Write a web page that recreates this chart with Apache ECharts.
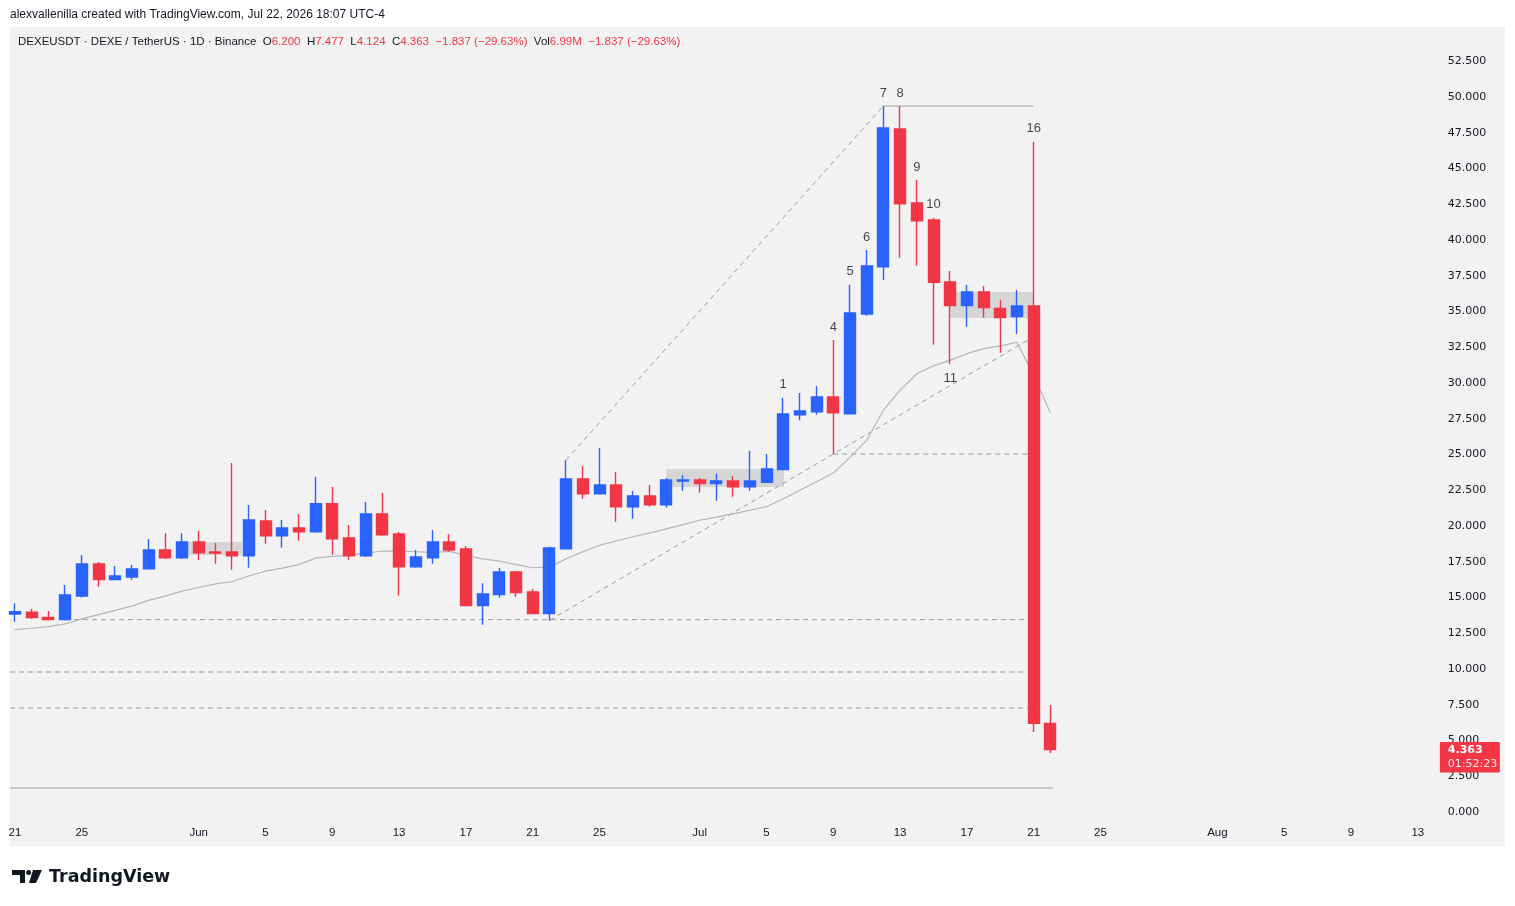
<!DOCTYPE html>
<html>
<head>
<meta charset="utf-8">
<script src="https://cdn.jsdelivr.net/npm/echarts/dist/echarts.min.js"></script>
<style>
  html, body { margin: 0; padding: 0; background: #ffffff; }
  #panel { position: absolute; left: 10px; top: 27px; width: 1495px; height: 819px; background: #f2f2f2; }
  #chart { position: absolute; left: 0; top: 0; width: 1515px; height: 906px; }
</style>
</head>
<body>
<div id="panel"></div>
<div id="chart"></div>
<script>
// ---------------- DATA ----------------
const startDate = '2026-05-21';
const categoryCount = 86; // May 21 .. Aug 14 (time scale incl. future space)

// daily candles May 21 .. Jul 22
const opens = [13.85,13.97,13.6,13.45,15.1,17.34,16.25,16.43,17.0,18.32,17.78,18.88,18.18,18.18,17.92,20.35,19.32,19.86,19.6,21.56,19.16,17.92,20.84,19.44,17.15,17.78,18.88,18.39,14.43,15.2,16.78,15.38,13.87,18.41,23.29,22.26,22.87,21.35,22.1,21.49,23.15,23.22,22.96,23.15,22.75,23.06,23.94,27.78,27.99,29.02,27.85,34.83,38.13,47.76,42.59,41.4,37.06,35.41,36.36,35.22,34.64,35.38,6.2];
const closes = [14.0,13.6,13.45,15.17,17.34,16.25,16.5,17.0,18.32,17.78,18.88,18.13,18.1,17.92,20.42,19.32,19.86,19.6,21.56,19.11,17.92,20.84,19.39,17.15,17.83,18.88,18.32,14.43,15.24,16.78,15.34,13.87,18.46,23.29,22.26,22.87,21.35,22.1,21.49,23.22,23.22,22.96,23.15,22.75,23.15,23.99,27.83,28.04,29.02,27.92,34.9,38.18,47.83,42.54,41.35,37.04,35.41,36.36,35.27,34.57,35.38,6.2,4.363];
const lows = [13.3,13.5,13.45,13.4,15.0,15.76,16.2,16.25,17.0,17.7,17.7,17.62,17.36,16.94,17.08,18.76,18.48,18.97,19.6,17.99,17.64,17.83,19.32,15.13,17.08,17.36,18.2,14.43,13.1,14.99,15.06,13.87,13.38,18.4,21.91,22.2,20.3,20.51,21.35,21.28,22.47,22.33,21.77,22.05,22.47,23.0,23.9,27.39,27.78,25.03,27.8,34.7,37.2,38.76,38.2,32.68,31.31,33.94,34.57,32.12,33.43,5.59,4.124];
const highs = [14.6,14.2,14.05,15.87,17.97,17.48,17.2,17.27,19.09,19.5,19.5,19.67,18.81,24.4,21.47,21.12,20.42,20.84,23.45,22.73,20.07,21.68,22.31,19.58,18.32,19.72,19.44,18.6,16.0,17.06,16.85,15.59,18.55,24.62,24.2,25.45,23.78,22.45,22.87,23.36,23.57,23.36,23.66,23.5,25.24,25.03,28.97,29.3,29.79,33.0,36.87,39.3,49.37,49.37,44.2,41.56,37.83,36.85,36.78,35.83,36.5,46.87,7.477];
// moving average
const maValues = [12.75,12.85,12.96,13.15,13.5,13.8,14.1,14.4,14.8,15.1,15.45,15.7,15.95,16.1,16.5,16.85,17.05,17.3,17.75,17.88,17.95,18.1,18.25,18.25,18.2,18.15,18.22,17.95,17.7,17.55,17.3,17.08,17.15,17.7,18.2,18.65,18.95,19.25,19.5,19.8,20.1,20.4,20.62,20.85,21.1,21.35,21.9,22.5,23.1,23.7,24.8,26.0,28.1,29.5,30.65,31.2,31.6,32.05,32.4,32.6,32.85,30.5,27.9];

// time-axis tick labels
const tickDates = ['2026-05-21','2026-05-25','2026-06-01','2026-06-05','2026-06-09','2026-06-13','2026-06-17','2026-06-21','2026-06-25','2026-07-01','2026-07-05','2026-07-09','2026-07-13','2026-07-17','2026-07-21','2026-07-25','2026-08-01','2026-08-05','2026-08-09','2026-08-13'];
const monthNames = ['Jan','Feb','Mar','Apr','May','Jun','Jul','Aug','Sep','Oct','Nov','Dec'];

// pivot labels
const pivotDates  = ['2026-07-06','2026-07-09','2026-07-10','2026-07-11','2026-07-12','2026-07-13','2026-07-14','2026-07-15','2026-07-16','2026-07-21'];
const pivotTexts  = ['1','4','5','6','7','8','9','10','11','16'];
const pivotSides  = ['high','high','high','high','high','high','high','high','low','high'];

// dashed horizontal levels
const levelFrom  = ['2026-05-24','2026-05-20T17:00:00Z','2026-05-20T17:00:00Z','2026-07-09'];
const levelTo    = ['2026-07-21','2026-07-21','2026-07-21','2026-07-21'];
const levelValue = [13.45, 9.79, 7.27, 25.03];

// dashed trend lines
const trendFromDate = ['2026-06-23','2026-06-22'];
const trendFromVal  = [24.62, 13.4];
const trendToDate   = ['2026-07-12','2026-07-21'];
const trendToVal    = [49.37, 33.24];

// solid horizontal lines
const solidFrom  = ['2026-07-12','2026-05-20T17:00:00Z'];
const solidTo    = ['2026-07-21','2026-07-22T04:00:00Z'];
const solidValue = [49.37, 1.68];

// shaded boxes
const boxFrom   = ['2026-05-31T08:40:00Z','2026-06-29T00:00:00Z','2026-07-16T00:00:00Z'];
const boxTo     = ['2026-06-03T14:30:00Z','2026-07-06T01:00:00Z','2026-07-21T00:00:00Z'];
const boxTop    = [18.88, 23.99, 36.36];
const boxBottom = [17.97, 22.73, 34.55];

const symbolInfo = 'DEXEUSDT · DEXE / TetherUS · 1D · Binance';
const volumeText = '6.99M';
const countdown = '01:52:23';

// ---------------- HELPERS ----------------
const DAY = 86400000;
const t0 = Date.parse(startDate + 'T00:00:00Z');
function dIdx(s) { return (Date.parse(s.length === 10 ? s + 'T00:00:00Z' : s) - t0) / DAY; }
const categories = [];
for (let i = 0; i < categoryCount; i++) {
  const d = new Date(t0 + i * DAY);
  categories.push(d.toISOString().slice(0, 10));
}
const tickSet = new Set(tickDates);
const candleData = opens.map((o, i) => [o, closes[i], lows[i], highs[i]]);

const FONT = '"Liberation Sans", Arial, sans-serif';
const dashStyle = { color: '#9a9a9a', width: 1, type: [5, 4] };
const solidStyle = { color: '#a0a0a0', width: 1, type: 'solid' };

const series = [];
levelValue.forEach((v, k) => {
  const s = {
    type: 'line', xAxisIndex: 1, yAxisIndex: 0, silent: true, symbol: 'none', z: 1,
    data: [[dIdx(levelFrom[k]), v], [dIdx(levelTo[k]), v]], lineStyle: dashStyle
  };
  if (k === 0) {
    s.markArea = {
      silent: true,
      itemStyle: { color: 'rgba(150,150,150,0.3)' },
      data: boxTop.map((t, j) => [{ coord: [dIdx(boxFrom[j]), t] }, { coord: [dIdx(boxTo[j]), boxBottom[j]] }])
    };
  }
  series.push(s);
});
trendFromDate.forEach((d, k) => {
  series.push({
    type: 'line', xAxisIndex: 1, yAxisIndex: 0, silent: true, symbol: 'none', z: 1,
    data: [[dIdx(d), trendFromVal[k]], [dIdx(trendToDate[k]), trendToVal[k]]], lineStyle: dashStyle
  });
});
solidValue.forEach((v, k) => {
  series.push({
    type: 'line', xAxisIndex: 1, yAxisIndex: 0, silent: true, symbol: 'none', z: 1,
    data: [[dIdx(solidFrom[k]), v], [dIdx(solidTo[k]), v]], lineStyle: solidStyle
  });
});
series.push({
  type: 'line', xAxisIndex: 0, yAxisIndex: 0, silent: true, symbol: 'none', z: 2,
  data: maValues, lineStyle: { color: '#b5b5b5', width: 1.2 }
});
series.push({
  type: 'candlestick', xAxisIndex: 0, yAxisIndex: 0, z: 5, barWidth: 11.5,
  data: candleData,
  itemStyle: { color: '#2962ff', color0: '#f23645', borderColor: '#2962ff', borderColor0: '#f23645', borderWidth: 1.4 }
});
series.push({
  type: 'scatter', xAxisIndex: 1, yAxisIndex: 0, silent: true, z: 6, symbolSize: 1,
  itemStyle: { color: 'rgba(0,0,0,0)' },
  data: pivotDates.map((d, k) => {
    const i = Math.round(dIdx(d));
    const hi = pivotSides[k] === 'high';
    return {
      name: pivotTexts[k], value: [i, hi ? highs[i] : lows[i]],
      label: { position: hi ? 'top' : 'bottom', distance: hi ? 6 : 7 }
    };
  }),
  label: { show: true, formatter: '{b}', fontFamily: FONT, fontSize: 13, color: '#131722' }
});

// legend line
const n = closes.length;
const lastO = opens[n - 1], lastH = highs[n - 1], lastL = lows[n - 1], lastC = closes[n - 1];
const chg = lastC - closes[n - 2];
const pct = chg / closes[n - 2] * 100;
const fmtSigned = v => (v < 0 ? '\u2212' : '+') + Math.abs(v).toFixed(3);
const chgText = fmtSigned(chg) + ' (' + (pct < 0 ? '\u2212' : '+') + Math.abs(pct).toFixed(2) + '%)';
const legendRich = symbolInfo + '  O{r|' + lastO.toFixed(3) + '}  H{r|' + lastH.toFixed(3) + '}  L{r|' + lastL.toFixed(3) +
  '}  C{r|' + lastC.toFixed(3) + '}  {r|' + chgText + '}  Vol{r|' + volumeText + '}  {r|' + chgText + '}';

const chart = echarts.init(document.getElementById('chart'), null, { renderer: 'canvas' });
const gridLeft = 6.65, cellW = 16.7;
const gridRight = 1515 - (gridLeft + cellW * categoryCount);

function baseGraphics() {
  return [
    { type: 'text', left: 10, top: 9, silent: true,
      style: { text: 'alexvallenilla created with TradingView.com, Jul 22, 2026 18:07 UTC-4', font: '12px ' + FONT, fill: '#131722' } },
    { type: 'text', left: 18, top: 36, silent: true,
      style: { text: legendRich, font: '11.5px ' + FONT, fill: '#131722', rich: { r: { fill: '#f23645', font: '11.5px ' + FONT } } } },
    { type: 'group', left: 12, top: 870, silent: true, children: [
      { type: 'polygon', shape: { points: [[0,0],[13,0],[13,13],[8,13],[8,5],[0,5]] }, style: { fill: '#131722' } },
      { type: 'circle', shape: { cx: 16.6, cy: 2.5, r: 2.5 }, style: { fill: '#131722' } },
      { type: 'polygon', shape: { points: [[21,0],[30,0],[24,13],[17,13]] }, style: { fill: '#131722' } }
    ] },
    { type: 'text', left: 49, top: 868, silent: true,
      style: { text: 'TradingView', font: 'bold 17.5px "DejaVu Sans", sans-serif', fill: '#131722' } }
  ];
}

chart.setOption({
  animation: false,
  backgroundColor: 'transparent',
  grid: { left: gridLeft, right: gridRight, top: 25.5, bottom: 94, containLabel: false },
  xAxis: [
    {
      type: 'category', data: categories, boundaryGap: true,
      axisLine: { show: false }, axisTick: { show: false }, splitLine: { show: false },
      axisLabel: {
        interval: (idx, val) => tickSet.has(val), margin: 15, hideOverlap: false,
        fontFamily: FONT, fontSize: 11.5, color: '#131722',
        formatter: v => { const d = new Date(v + 'T00:00:00Z'); return d.getUTCDate() === 1 ? monthNames[d.getUTCMonth()] : String(d.getUTCDate()); }
      }
    },
    { type: 'value', min: -0.5, max: categoryCount - 0.5, show: false }
  ],
  yAxis: [{
    type: 'value', position: 'right', min: 0, max: 55, interval: 2.5, scale: false,
    axisLine: { show: false }, axisTick: { show: false }, splitLine: { show: false },
    axisLabel: {
      margin: 5, fontFamily: '"DejaVu Sans", sans-serif', fontSize: 11, color: '#131722', align: 'left',
      lineHeight: 14, padding: [3, 0, 0, 0],
      formatter: v => v >= 55 ? '' : v.toFixed(3)
    }
  }],
  graphic: baseGraphics(),
  series: series
});

// last price tag on the price scale
const yPix = chart.convertToPixel({ yAxisIndex: 0 }, lastC);
const tagX = gridLeft + cellW * categoryCount - 3;
chart.setOption({
  graphic: baseGraphics().concat([
    { type: 'rect', silent: true, z: 100, shape: { x: tagX, y: yPix - 7.5, width: 60, height: 30.5, r: 1 }, style: { fill: '#f23645' } },
    { type: 'text', silent: true, z: 101, x: tagX + 8, y: yPix + 1, style: { text: lastC.toFixed(3), font: 'bold 11px "DejaVu Sans", sans-serif', fill: '#ffffff', verticalAlign: 'middle' } },
    { type: 'text', silent: true, z: 101, x: tagX + 8, y: yPix + 15, style: { text: countdown, font: '11px "DejaVu Sans", sans-serif', fill: '#ffe6e8', verticalAlign: 'middle' } }
  ])
}, { replaceMerge: ['graphic'] });
</script>
</body>
</html>
